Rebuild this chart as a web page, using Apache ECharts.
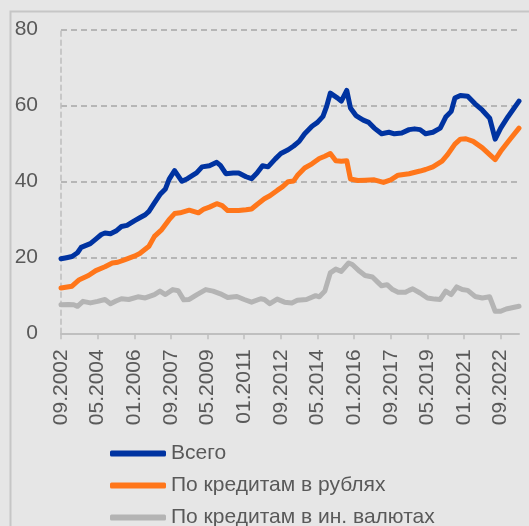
<!DOCTYPE html>
<html>
<head>
<meta charset="utf-8">
<script src="https://cdn.jsdelivr.net/npm/echarts@6/dist/echarts.min.js"></script>
<style>
html,body{margin:0;padding:0;background:#e6e6e6;}
#c{width:529px;height:526px;}
</style>
</head>
<body>
<div id="c"></div>
<script>
// Monthly categories: 09.2002 ... 07.2023
const startYear = 2002, startMonth = 9, monthCount = 251;
const categories = [];
for (let i = 0; i < monthCount; i++) {
  const m = (startMonth - 1 + i) % 12 + 1;
  const y = startYear + Math.floor((startMonth - 1 + i) / 12);
  categories.push((m < 10 ? '0' + m : '' + m) + '.' + y);
}
const yTicks = [0, 20, 40, 60, 80];
const seriesNames = ['Всего', 'По кредитам в рублях', 'По кредитам в ин. валютах'];

// [month index from 09.2002, value]
const total = [[0,19.6],[3,19.9],[6,20.2],[9,21.2],[11,22.6],[13,23.0],[16,23.6],[19,24.8],[22,26.0],[24,26.4],[27,26.2],[30,26.9],[33,28.1],[36,28.4],[40,29.6],[43,30.4],[46,31.2],[48,32.1],[51,34.3],[54,36.5],[57,38.0],[59,40.5],[60,41.3],[62,42.8],[63,42.9],[66,40.0],[69,40.7],[72,41.6],[74,42.2],[77,43.8],[81,44.1],[85,45.0],[87,44.2],[90,42.0],[94,42.2],[97,42.2],[101,41.2],[104,40.7],[107,42.2],[110,44.1],[113,43.8],[117,45.9],[120,47.3],[124,48.3],[127,49.3],[130,50.5],[133,52.5],[137,54.5],[140,55.5],[143,57.1],[145,59.7],[147,63.2],[151,61.9],[153,61.1],[156,63.9],[158,59.3],[161,57.3],[165,56.1],[168,55.5],[171,54.0],[175,52.5],[179,52.9],[182,52.5],[186,52.7],[190,53.6],[193,53.8],[196,53.6],[199,52.5],[203,52.9],[207,54.0],[210,56.9],[213,58.4],[215,61.9],[218,62.6],[222,62.4],[226,60.4],[230,58.7],[234,56.6],[237,51.1],[240,54.0],[244,57.0],[250,61.1]];
const rub = [[0,11.9],[6,12.4],[10,14.1],[15,15.2],[19,16.5],[24,17.5],[28,18.5],[31,18.7],[35,19.4],[40,20.3],[43,21.0],[48,22.9],[51,25.5],[55,27.3],[59,29.9],[62,31.5],[65,31.7],[70,32.4],[75,31.7],[78,32.7],[81,33.2],[85,34.1],[88,33.6],[91,32.3],[97,32.3],[101,32.5],[104,32.7],[107,33.9],[111,35.4],[114,36.2],[118,37.6],[121,38.6],[124,39.9],[127,40.1],[129,41.5],[133,43.5],[137,44.6],[141,46.0],[144,46.6],[147,47.3],[150,45.4],[153,45.3],[156,45.4],[158,40.6],[162,40.2],[166,40.3],[171,40.4],[176,39.7],[180,40.4],[184,41.6],[190,42.0],[196,42.7],[199,43.1],[203,43.8],[208,45.3],[211,47.0],[215,49.8],[218,51.1],[221,51.2],[225,50.5],[230,48.8],[234,47.0],[237,45.7],[240,47.9],[245,51.0],[250,54.0]];
const fx = [[0,7.5],[4,7.6],[7,7.5],[9,7.1],[12,8.4],[16,8.0],[20,8.4],[24,8.9],[27,7.8],[30,8.5],[33,9.1],[37,8.9],[42,9.6],[46,9.3],[51,10.2],[54,11.1],[57,10.2],[61,11.5],[64,11.2],[67,8.8],[70,8.9],[74,10.1],[79,11.5],[83,11.1],[87,10.4],[91,9.4],[96,9.7],[100,8.9],[104,8.2],[109,9.1],[111,8.9],[114,7.8],[118,9.0],[122,8.2],[126,8.0],[129,8.7],[134,8.9],[139,9.9],[141,9.6],[144,11.1],[147,15.9],[150,16.9],[153,16.3],[157,18.5],[159,18.1],[163,16.3],[166,15.2],[170,14.8],[173,13.4],[175,12.5],[178,12.8],[181,11.5],[184,10.8],[188,10.8],[190,11.3],[192,11.7],[196,10.6],[200,9.3],[204,9.0],[207,8.9],[210,11.1],[213,10.2],[216,12.2],[219,11.5],[222,11.3],[226,9.7],[230,9.3],[234,9.6],[237,5.8],[240,5.8],[243,6.4],[250,7.1]];

const colors = ['#0033a1', '#ff761a', '#b4b4b4'];
const toData = arr => arr.map(p => [categories[p[0]], p[1]]);
const FONT = '"Liberation Sans", Arial, sans-serif';

const chart = echarts.init(document.getElementById('c'), null, {renderer: 'canvas'});
chart.setOption({
  backgroundColor: '#e6e6e6',
  animation: false,
  color: colors,
  grid: {left: 61, right: 10, top: 29.3, bottom: 192.7, containLabel: false},
  graphic: [{
    type: 'rect', silent: true, z: -1,
    shape: {x: 10.5, y: 11.5, width: 600, height: 600},
    style: {fill: 'none', stroke: '#c6c6c6', lineWidth: 2}
  }],
  xAxis: {
    type: 'category',
    data: categories,
    boundaryGap: false,
    axisLine: {show: true, lineStyle: {color: '#bfbfbf', width: 2}},
    axisTick: {show: true, interval: 19, length: 6, lineStyle: {color: '#bfbfbf', width: 1.5}},
    axisLabel: {interval: 19, rotate: 90, margin: 16, color: '#595959', fontSize: 21, fontFamily: FONT},
    splitLine: {show: false}
  },
  yAxis: {
    type: 'value', min: yTicks[0], max: yTicks[yTicks.length - 1], interval: 20,
    axisLine: {show: true, lineStyle: {color: '#bdbdbd', width: 1.5, type: [5, 4]}},
    axisTick: {show: false},
    axisLabel: {margin: 23, color: '#595959', fontSize: 21, fontFamily: FONT},
    splitLine: {show: true, lineStyle: {color: '#a6a6a6', width: 1.5, type: [6, 4]}}
  },
  legend: {
    orient: 'vertical', left: 110, top: 443, height: 120, padding: 0, itemGap: 11,
    itemWidth: 56, itemHeight: 6, icon: 'roundRect',
    textStyle: {color: '#595959', fontSize: 21, fontFamily: FONT},
    data: seriesNames
  },
  series: [
    {name: seriesNames[2], type: 'line', data: toData(fx), showSymbol: false, z: 2,
     lineStyle: {width: 5, color: colors[2], cap: 'round', join: 'round'}, itemStyle: {color: colors[2]}},
    {name: seriesNames[1], type: 'line', data: toData(rub), showSymbol: false, z: 3,
     lineStyle: {width: 5, color: colors[1], cap: 'round', join: 'round'}, itemStyle: {color: colors[1]}},
    {name: seriesNames[0], type: 'line', data: toData(total), showSymbol: false, z: 4,
     lineStyle: {width: 5, color: colors[0], cap: 'round', join: 'round'}, itemStyle: {color: colors[0]}}
  ]
});
</script>
</body>
</html>
